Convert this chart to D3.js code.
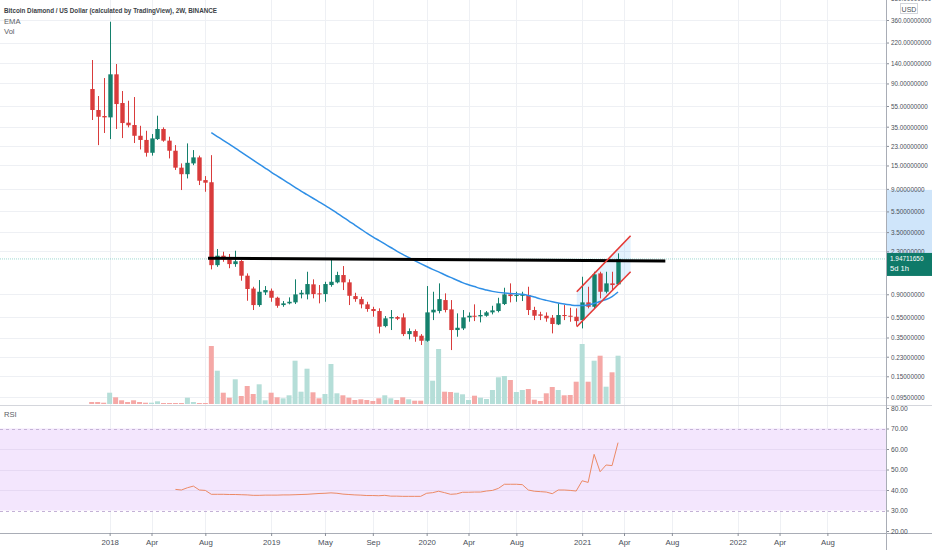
<!DOCTYPE html>
<meta charset="utf-8">

<!-- Load d3.js -->
<script src="https://d3js.org/d3.v7.min.js"></script>

<style>
  body { margin: 0; background: #fff; }
  svg text { font-family: "Liberation Sans Narrow", "Liberation Sans", Arial, sans-serif; }
</style>

<div id="my_dataviz"></div>

<script>
    // ---- data ----
    var opens = [79.7, 50.4, 44.2, 42.9, 109.9, 58.7, 38.2, 36.3, 28.7, 26.2,
        19.8, 26.7, 33.3, 25.8, 20.7, 14.3, 12.4, 15.7, 17.9, 10.9,
        10.4, 1.70, 2.09, 1.93, 1.74, 1.86, 1.35, 1.02, 0.711, 0.938,
        0.972, 0.834, 0.711, 0.738, 0.754, 0.898, 0.898, 1.118, 0.918, 0.904,
        1.101, 1.168, 1.370, 1.168, 0.865, 0.810, 0.722, 0.652, 0.624, 0.449,
        0.532, 0.547, 0.543, 0.377, 0.403, 0.364, 0.326, 0.606, 0.624, 0.793,
        0.647, 0.412, 0.427, 0.543, 0.563, 0.555, 0.563, 0.606, 0.624, 0.727,
        0.898, 0.871, 0.871, 0.885, 0.638, 0.580, 0.563, 0.539, 0.466, 0.572,
        0.563, 0.551, 0.512, 0.754, 0.685, 1.42, 0.951, 1.142, 1.118];
    var highs = [150.2, 68.4, 101.3, 346.6, 137.6, 76.3, 61.7, 66.9, 35.7, 32.0,
        29.8, 44.5, 34.5, 28.1, 23.4, 15.7, 24.3, 21.0, 18.6, 11.9,
        18.8, 2.42, 2.28, 2.17, 2.33, 1.90, 1.42, 1.06, 1.228, 1.077,
        1.02, 0.853, 0.776, 0.841, 1.247, 0.987, 1.472, 1.247, 1.101, 1.183,
        1.901, 1.472, 1.667, 1.247, 0.930, 0.853, 0.764, 0.685, 0.662, 0.559,
        0.638, 0.559, 0.593, 0.427, 0.418, 0.377, 1.077, 0.951, 1.142, 0.918,
        0.793, 0.593, 0.638, 0.606, 0.722, 0.638, 0.624, 0.700, 0.834, 1.038,
        1.142, 0.951, 0.951, 1.061, 0.685, 0.614, 0.606, 0.572, 0.738, 0.711,
        0.670, 0.662, 1.320, 1.061, 1.472, 1.472, 1.472, 1.472, 2.20];
    var lows = [40.5, 23.4, 30.5, 26.7, 33.3, 27.3, 34.5, 24.5, 21.3, 18.2,
        18.6, 26.2, 25.2, 17.5, 13.6, 8.77, 11.3, 15.1, 9.78, 8.45,
        1.55, 1.64, 1.83, 1.59, 1.64, 1.21, 0.781, 0.638, 0.685, 0.885,
        0.764, 0.670, 0.685, 0.722, 0.727, 0.823, 0.805, 0.823, 0.738, 0.764,
        1.061, 1.142, 0.987, 0.711, 0.764, 0.662, 0.614, 0.551, 0.383, 0.437,
        0.412, 0.512, 0.361, 0.336, 0.319, 0.297, 0.319, 0.512, 0.593, 0.606,
        0.266, 0.356, 0.412, 0.494, 0.501, 0.487, 0.551, 0.580, 0.606, 0.711,
        0.754, 0.764, 0.776, 0.572, 0.512, 0.512, 0.494, 0.383, 0.459, 0.512,
        0.494, 0.452, 0.427, 0.662, 0.662, 0.823, 0.918, 0.987, 1.101];
    var closes = [50.4, 43.5, 42.9, 109.9, 57.4, 37.9, 36.1, 28.7, 26.2, 19.8,
        27.1, 33.3, 25.8, 20.7, 14.3, 12.4, 15.9, 17.9, 10.75, 10.3,
        1.70, 2.09, 1.93, 1.74, 1.85, 1.35, 1.01, 0.711, 0.951, 0.987,
        0.834, 0.700, 0.738, 0.764, 0.898, 0.930, 1.125, 0.904, 0.898, 1.125,
        1.183, 1.370, 1.168, 0.871, 0.810, 0.722, 0.652, 0.624, 0.443, 0.532,
        0.547, 0.527, 0.377, 0.403, 0.356, 0.326, 0.606, 0.642, 0.810, 0.638,
        0.412, 0.433, 0.543, 0.563, 0.555, 0.572, 0.606, 0.633, 0.738, 0.898,
        0.865, 0.885, 0.898, 0.638, 0.563, 0.563, 0.532, 0.470, 0.572, 0.559,
        0.551, 0.501, 0.754, 0.685, 1.391, 0.951, 1.142, 1.101, 1.94711650];
    // volume, relative units
    var volumes = [2, 2, 1.3, 11.3, 6.7, 3.7, 2, 3.7, 2, 1.3,
        1.3, 2.7, 1, 1, 1, 1, 6.3, 2, 1, 1,
        58, 33.3, 11.3, 6.3, 24.7, 8, 18, 10, 19.7, 3.7,
        11.3, 6.7, 5.7, 8.7, 43.3, 12.3, 35.3, 11.7, 5.7, 10,
        40, 10.7, 8.7, 6.3, 4, 4.7, 4, 3, 5.7, 8.7,
        5.7, 4, 6.7, 4.7, 3.3, 3.3, 66, 23.3, 55, 12.3,
        12, 11.3, 9.7, 4, 8.3, 6.3, 5, 14, 26.7, 28,
        24, 12, 14, 15, 4.3, 3, 10.7, 17, 14, 8.7,
        9, 22.3, 60, 22.3, 43.3, 48.3, 17.3, 31.7, 48.3];
    // EMA starts at bar 20
    var emaStart = 20;
    var emaValues = [30.67, 28.22, 25.98, 23.86, 21.95, 20.12, 18.44, 16.89, 15.48, 14.18,
        13.00, 11.96, 11.01, 10.13, 9.32, 8.58, 7.93, 7.33, 6.78, 6.27,
        5.79, 5.31, 4.86, 4.46, 4.08, 3.74, 3.43, 3.16, 2.92, 2.70,
        2.50, 2.31, 2.15, 2.01, 1.88, 1.76, 1.65, 1.55, 1.47, 1.38,
        1.30, 1.23, 1.16, 1.11, 1.065, 1.02, 0.987, 0.959, 0.938, 0.924,
        0.914, 0.908, 0.899, 0.875, 0.847, 0.814, 0.788, 0.764, 0.743, 0.727,
        0.714, 0.703, 0.703, 0.714, 0.735, 0.768, 0.802, 0.856, 0.945];
    // RSI starts at bar 14
    var rsiStart = 14;
    var rsiValues = [40.3, 40.0, 41.1, 41.9, 40.0, 39.8, 37.9, 37.9, 37.9, 37.8,
        37.8, 37.7, 37.6, 37.4, 37.4, 37.5, 37.5, 37.5, 37.6, 37.6,
        37.7, 37.8, 37.9, 38.1, 38.3, 38.4, 38.6, 38.4, 38.0, 37.8,
        37.6, 37.5, 37.3, 37.3, 37.2, 37.4, 37.0, 37.0, 36.9, 36.9,
        36.9, 36.9, 38.4, 38.7, 39.4, 38.7, 37.9, 38.1, 38.9, 38.9,
        39.0, 39.0, 39.5, 39.8, 40.8, 42.8, 42.8, 42.8, 42.6, 40.0,
        39.4, 39.2, 39.0, 38.2, 40.0, 40.0, 39.8, 39.5, 44.5, 43.7,
        57.4, 48.9, 52.2, 51.9, 63.1];

    var priceTicks = [580, 360, 220, 140, 90, 55, 35, 23, 15, 9, 5.5, 3.5, 2.3, 0.9, 0.55, 0.35, 0.23, 0.15, 0.095];
    var rsiTicks = [80, 70, 60, 50, 40, 30, 20];
    var timeLabels = ["2018", "Apr", "Aug", "2019", "May", "Sep", "2020", "Apr", "Aug", "2021", "Apr", "Aug", "2022", "Apr", "Aug"];
    var timeLabelBars = [3, 10, 19, 30, 39, 47, 56, 63, 71, 82, 89, 97, 108, 115, 123];

    // drawings: [bar, price]
    var trendLine = [[19.45, 1.977], [95.9, 1.86]];
    var channelUpper = [[81.1, 0.951], [90.1, 3.23]];
    var channelLower = [[81.1, 0.443], [90.1, 1.47]];
    var axisHighlight = [8.8, 1.95];
    var lastPrice = 1.94711650;
    var lastPriceTimer = "5d 1h";

    var titleText = "Bitcoin Diamond / US Dollar (calculated by TradingView), 2W, BINANCE";

    // ---- layout ----
    var W = 932, H = 550;
    var axisX = 886, paneBottom = 404, rsiBottom = 533;
    var upColor = "#14806c", downColor = "#d93b3b";
    var upVol = "#b5ded8", downVol = "#f5a8a6";
    var charW = 3.35;   // axis label squeeze, px per character

    var svg = d3.select("#my_dataviz")
        .append("svg")
        .attr("width", W)
        .attr("height", H);

    var x = d3.scaleLinear().domain([0, 132.8]).range([91.7, axisX]);
    var y = d3.scaleLog().domain([360, 0.095]).range([20, 397.2]);
    var yVol = d3.scaleLinear().domain([0, 74]).range([paneBottom, 330]);
    var yRsi = d3.scaleLinear().domain([80, 20]).range([408, 531]);

    svg.append("clipPath").attr("id", "mainClip")
        .append("rect").attr("x", 0).attr("y", 0).attr("width", axisX).attr("height", paneBottom);

    // grid
    var grid = svg.append("g").attr("stroke", "#eef0f4").attr("stroke-width", 1);
    timeLabelBars.forEach(function (b) {
        var gx = Math.round(x(b)) + 0.5;
        grid.append("line").attr("x1", gx).attr("x2", gx).attr("y1", 0).attr("y2", rsiBottom);
    });
    priceTicks.forEach(function (p) {
        var gy = Math.round(y(p)) + 0.5;
        if (gy > 0 && gy < paneBottom) grid.append("line").attr("x1", 0).attr("x2", axisX).attr("y1", gy).attr("y2", gy);
    });

    // RSI background band
    svg.append("rect")
        .attr("x", 0).attr("width", axisX)
        .attr("y", yRsi(70)).attr("height", yRsi(30) - yRsi(70))
        .attr("fill", "#f3e6fd");
    [60, 50, 40].forEach(function (v) {
        svg.append("line").attr("x1", 0).attr("x2", axisX)
            .attr("y1", Math.round(yRsi(v)) + 0.5).attr("y2", Math.round(yRsi(v)) + 0.5)
            .attr("stroke", "#e6d9f3");
    });
    [70, 30].forEach(function (v) {
        svg.append("line").attr("x1", 0).attr("x2", axisX)
            .attr("y1", Math.round(yRsi(v)) + 0.5).attr("y2", Math.round(yRsi(v)) + 0.5)
            .attr("stroke", "#c4b2d6").attr("stroke-dasharray", "3,3");
    });

    var main = svg.append("g").attr("clip-path", "url(#mainClip)");

    // volume
    main.selectAll(".vol")
        .data(volumes)
        .enter()
        .append("rect")
        .attr("x", function (d, i) { return x(i) - 2.5; })
        .attr("width", 5)
        .attr("y", function (d) { return yVol(d); })
        .attr("height", function (d) { return paneBottom - yVol(d); })
        .attr("fill", function (d, i) { return closes[i] >= opens[i] ? upVol : downVol; });

    // last price line
    main.append("line")
        .attr("x1", 0).attr("x2", axisX)
        .attr("y1", y(lastPrice)).attr("y2", y(lastPrice))
        .attr("stroke", "#26a69a").attr("stroke-opacity", 0.45)
        .attr("stroke-dasharray", "1,1");

    // channel fill
    var chPoly = channelUpper.concat(channelLower.slice().reverse());
    main.append("path")
        .attr("d", "M" + chPoly.map(function (p) { return x(p[0]) + "," + y(p[1]); }).join("L") + "Z")
        .attr("fill", "#2196f3").attr("fill-opacity", 0.12);

    // candles
    var candles = main.selectAll(".candle")
        .data(opens)
        .enter()
        .append("g");
    candles.append("line")
        .attr("x1", function (d, i) { return Math.round(x(i)) + 0.5; })
        .attr("x2", function (d, i) { return Math.round(x(i)) + 0.5; })
        .attr("y1", function (d, i) { return y(highs[i]); })
        .attr("y2", function (d, i) { return y(lows[i]); })
        .attr("stroke", function (d, i) { return closes[i] >= opens[i] ? upColor : downColor; })
        .attr("stroke-width", 1);
    candles.append("rect")
        .attr("x", function (d, i) { return Math.round(x(i)) + 0.5 - 2.2; })
        .attr("width", 4.4)
        .attr("y", function (d, i) { return y(Math.max(opens[i], closes[i])); })
        .attr("height", function (d, i) { return Math.max(1, Math.abs(y(opens[i]) - y(closes[i]))); })
        .attr("fill", function (d, i) { return closes[i] >= opens[i] ? upColor : downColor; });

    // EMA
    main.append("path")
        .datum(emaValues)
        .attr("fill", "none")
        .attr("stroke", "#2f8fe6")
        .attr("stroke-width", 1.5)
        .attr("d", d3.line()
            .x(function (d, i) { return x(i + emaStart); })
            .y(function (d) { return y(d); })
            .curve(d3.curveMonotoneX));

    // trend line and channel
    var seg = d3.line().x(function (p) { return x(p[0]); }).y(function (p) { return y(p[1]); });
    main.append("path").datum(trendLine).attr("d", seg)
        .attr("stroke", "#000").attr("stroke-width", 3);
    [channelUpper, channelLower].forEach(function (c) {
        main.append("path").datum(c).attr("d", seg)
            .attr("stroke", "#e53935").attr("stroke-width", 1.6);
    });

    // RSI line
    svg.append("path")
        .datum(rsiValues)
        .attr("fill", "none")
        .attr("stroke", "#ec8a66")
        .attr("stroke-width", 1)
        .attr("d", d3.line()
            .x(function (d, i) { return x(i + rsiStart); })
            .y(function (d) { return yRsi(d); }));

    // pane separators
    svg.append("line").attr("x1", 0).attr("x2", W).attr("y1", paneBottom + 1.5).attr("y2", paneBottom + 1.5)
        .attr("stroke", "#d4d6dc");
    svg.append("line").attr("x1", 0).attr("x2", W).attr("y1", rsiBottom + 0.5).attr("y2", rsiBottom + 0.5)
        .attr("stroke", "#a9adb6");

    // price axis highlight
    svg.append("rect")
        .attr("x", axisX + 1).attr("width", W - axisX - 1)
        .attr("y", y(axisHighlight[0])).attr("height", y(axisHighlight[1]) - y(axisHighlight[0]))
        .attr("fill", "#cfe5fa");

    // right axes
    var priceAxis = svg.append("g")
        .attr("transform", "translate(" + axisX + ",0)")
        .call(d3.axisRight(y).tickValues(priceTicks).tickFormat(d3.format(".8f")).tickSize(3).tickPadding(2));
    var rsiAxis = svg.append("g")
        .attr("transform", "translate(" + axisX + ",0)")
        .call(d3.axisRight(yRsi).tickValues(rsiTicks).tickFormat(d3.format(".2f")).tickSize(3).tickPadding(2));
    [priceAxis, rsiAxis].forEach(function (a) {
        a.select(".domain").remove();
        a.selectAll("line").attr("stroke", "#8a8f99");
        a.selectAll("text")
            .attr("font-family", null).attr("font-size", 7.6).attr("fill", "#4a4f59")
            .attr("lengthAdjust", "spacingAndGlyphs")
            .attr("textLength", function () { return this.textContent.length * charW; });
    });
    svg.append("line").attr("x1", axisX + 0.5).attr("x2", axisX + 0.5).attr("y1", 0).attr("y2", H)
        .attr("stroke", "#a9adb6");

    // time axis
    var timeAxis = svg.append("g")
        .attr("transform", "translate(0," + rsiBottom + ")")
        .call(d3.axisBottom(x).tickValues(timeLabelBars)
            .tickFormat(function (d, i) { return timeLabels[i]; }).tickSize(3).tickPadding(3));
    timeAxis.select(".domain").remove();
    timeAxis.selectAll("line").attr("stroke", "#8a8f99");
    timeAxis.selectAll("text").attr("font-family", null).attr("font-size", 7.8).attr("fill", "#4a4f59");

    // last price label
    var ly = y(lastPrice);
    svg.append("rect")
        .attr("x", axisX + 1).attr("y", ly - 6).attr("width", W - axisX - 1).attr("height", 23)
        .attr("fill", "#0f7a69");
    svg.append("text").attr("x", axisX + 4).attr("y", ly + 2.5)
        .attr("font-size", 7.6).attr("fill", "#fff")
        .attr("lengthAdjust", "spacingAndGlyphs").attr("textLength", 10 * charW)
        .text(d3.format(".8f")(lastPrice));
    svg.append("text").attr("x", axisX + 4).attr("y", ly + 12.5)
        .attr("font-size", 7.6).attr("fill", "#fff").text(lastPriceTimer);

    // currency tag
    svg.append("rect").attr("x", 900.5).attr("y", 3.5).attr("width", 17).attr("height", 10)
        .attr("fill", "#fff").attr("stroke", "#d4d6dc");
    svg.append("text").attr("x", 909).attr("y", 11.5).attr("text-anchor", "middle")
        .attr("font-size", 7).attr("fill", "#4a4f59").text("USD");

    // legend
    svg.append("text").attr("x", 4).attr("y", 13).attr("font-size", 7.8).attr("font-weight", "bold")
        .attr("fill", "#3c3f46")
        .attr("lengthAdjust", "spacingAndGlyphs").attr("textLength", 213)
        .text(titleText);
    svg.append("text").attr("x", 4).attr("y", 24).attr("font-size", 7.6).attr("fill", "#5a5e66").text("EMA");
    svg.append("text").attr("x", 4).attr("y", 34).attr("font-size", 7.6).attr("fill", "#5a5e66").text("Vol");
    svg.append("text").attr("x", 4).attr("y", 417).attr("font-size", 7.6).attr("fill", "#5a5e66").text("RSI");
</script>
